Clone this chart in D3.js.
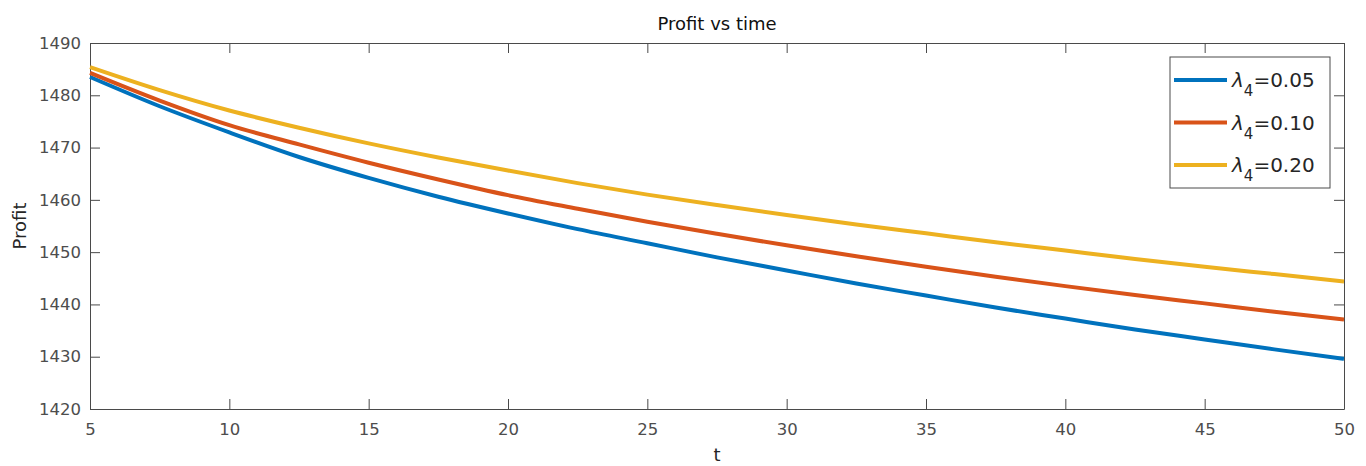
<!DOCTYPE html>
<html>
<head>
<meta charset="utf-8">
<script src="https://cdn.jsdelivr.net/npm/d3@7"></script>
<style>
  body { margin: 0; background: #fff; }
  svg { display: block; font-family: "DejaVu Sans", "Liberation Sans", sans-serif; }
</style>
</head>
<body>
<div id="chart"></div>
<script>
// time values
const tValues = [5, 7.5, 10, 12.5, 15, 17.5, 20, 22.5, 25, 27.5, 30, 32.5, 35, 37.5, 40, 42.5, 45, 47.5, 50];
// profit for each lambda_4
const profit005 = [1483.5, 1477.9, 1472.9, 1468.2, 1464.2, 1460.6, 1457.4, 1454.4, 1451.7, 1449.0, 1446.5, 1444.0, 1441.7, 1439.4, 1437.3, 1435.2, 1433.3, 1431.4, 1429.6];
const profit010 = [1484.3, 1479.0, 1474.3, 1470.6, 1467.1, 1463.9, 1460.9, 1458.3, 1455.8, 1453.5, 1451.3, 1449.2, 1447.2, 1445.3, 1443.5, 1441.8, 1440.2, 1438.6, 1437.1];
const profit020 = [1485.4, 1481.0, 1477.1, 1473.8, 1470.8, 1468.1, 1465.6, 1463.2, 1461.0, 1459.0, 1457.1, 1455.3, 1453.6, 1451.9, 1450.3, 1448.7, 1447.2, 1445.8, 1444.4];
const lambdas = ["0.05", "0.10", "0.20"];
const xTicks = [5, 10, 15, 20, 25, 30, 35, 40, 45, 50];
const yTicks = [1420, 1430, 1440, 1450, 1460, 1470, 1480, 1490];

const width = 1366, height = 466;
const margin = {top: 43, right: 22, bottom: 57, left: 90};
const innerW = width - margin.left - margin.right;
const innerH = height - margin.top - margin.bottom;

const svg = d3.select("#chart")
  .append("svg")
    .attr("width", width)
    .attr("height", height);

const x = d3.scaleLinear().domain([5, 50]).range([margin.left, margin.left + innerW]);
const y = d3.scaleLinear().domain([1420, 1490]).range([margin.top + innerH, margin.top]);

const color = d3.scaleOrdinal()
  .domain(lambdas)
  .range(["#0072BD", "#D95319", "#EDB120"]);

const axisColor = "#4a4a4a";
const tickLen = 10;

// axes (ticks point inward like matlab)
const fmt = d3.format("d");
const gx = svg.append("g")
  .attr("transform", `translate(0,${margin.top + innerH})`)
  .call(d3.axisBottom(x).tickValues(xTicks).tickFormat(fmt).tickSizeInner(-tickLen).tickSizeOuter(0).tickPadding(14));
const gxTop = svg.append("g")
  .attr("transform", `translate(0,${margin.top})`)
  .call(d3.axisTop(x).tickValues(xTicks).tickFormat("").tickSizeInner(-tickLen).tickSizeOuter(0));
const gy = svg.append("g")
  .attr("transform", `translate(${margin.left},0)`)
  .call(d3.axisLeft(y).tickValues(yTicks).tickFormat(fmt).tickSizeInner(-tickLen).tickSizeOuter(0).tickPadding(9));
const gyRight = svg.append("g")
  .attr("transform", `translate(${margin.left + innerW},0)`)
  .call(d3.axisRight(y).tickValues(yTicks).tickFormat("").tickSizeInner(-tickLen).tickSizeOuter(0));

[gx, gxTop, gy, gyRight].forEach(g => {
  g.select(".domain").attr("stroke", axisColor);
  g.selectAll(".tick line").attr("stroke", axisColor);
  g.selectAll(".tick text")
    .attr("fill", "#4d4d4d")
    .style("font-family", "'DejaVu Sans', sans-serif")
    .style("font-size", "16.5px");
});

// lines
const seriesList = [profit005, profit010, profit020].map((vals, i) => ({
  key: lambdas[i],
  points: tValues.map((t, j) => [t, vals[j]])
}));

const line = d3.line()
  .x(d => x(d[0]))
  .y(d => y(d[1]))
  .curve(d3.curveMonotoneX);

svg.append("g")
  .selectAll("path")
  .data(seriesList)
  .join("path")
    .attr("d", d => line(d.points))
    .attr("fill", "none")
    .attr("stroke", d => color(d.key))
    .attr("stroke-width", 4);

// title + labels
svg.append("text")
  .attr("x", margin.left + innerW / 2)
  .attr("y", 30)
  .attr("text-anchor", "middle")
  .style("font-size", "18px")
  .attr("fill", "#111")
  .text("Profit vs time");

svg.append("text")
  .attr("x", margin.left + innerW / 2)
  .attr("y", 461)
  .attr("text-anchor", "middle")
  .style("font-size", "18px")
  .attr("fill", "#262626")
  .text("t");

svg.append("text")
  .attr("transform", `translate(26,${margin.top + innerH / 2}) rotate(-90)`)
  .attr("text-anchor", "middle")
  .style("font-size", "18px")
  .attr("fill", "#262626")
  .text("Profit");

// legend
const legend = svg.append("g").attr("transform", "translate(1170,57)");
legend.append("rect")
  .attr("width", 160)
  .attr("height", 131)
  .attr("fill", "#fff")
  .attr("stroke", axisColor);

const rows = legend.selectAll("g.row")
  .data(lambdas)
  .join("g")
    .attr("class", "row")
    .attr("transform", (d, i) => `translate(0,${23 + i * 42.5})`);

rows.append("line")
  .attr("x1", 4).attr("x2", 57)
  .attr("stroke", d => color(d))
  .attr("stroke-width", 4);

const label = rows.append("text")
  .attr("x", 62)
  .attr("y", 7)
  .style("font-size", "20px")
  .attr("fill", "#262626");
label.append("tspan").style("font-style", "italic").text("\u03bb");
label.append("tspan").attr("dy", 9).style("font-size", "15px").text("4");
label.append("tspan").attr("dy", -9).text(d => "=" + d);
</script>
</body>
</html>
